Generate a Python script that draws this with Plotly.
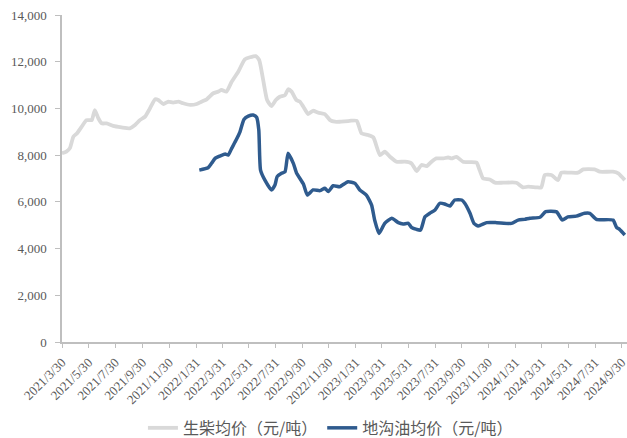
import plotly.graph_objects as go

# 生柴均价（元/吨）
diesel_dates = [
    "2021-03-30", "2021-04-09", "2021-04-17", "2021-04-25", "2021-05-03", "2021-05-14",
    "2021-05-25", "2021-06-06", "2021-06-13", "2021-06-21", "2021-06-29", "2021-07-10",
    "2021-07-25", "2021-08-13", "2021-09-01", "2021-09-13", "2021-09-24", "2021-10-06",
    "2021-10-17", "2021-10-29", "2021-11-05", "2021-11-17", "2021-11-28", "2021-12-09",
    "2021-12-21", "2022-01-01", "2022-01-17", "2022-02-01", "2022-02-12", "2022-02-24",
    "2022-03-11", "2022-03-22", "2022-03-30", "2022-04-10", "2022-04-22", "2022-05-07",
    "2022-05-22", "2022-06-03", "2022-06-16", "2022-06-24", "2022-07-03", "2022-07-12",
    "2022-07-22", "2022-08-01", "2022-08-10", "2022-08-22", "2022-08-29", "2022-09-06",
    "2022-09-17", "2022-09-25", "2022-10-03", "2022-10-14", "2022-10-25", "2022-11-06",
    "2022-11-21", "2022-12-03", "2022-12-14", "2022-12-25", "2023-01-17", "2023-02-02",
    "2023-02-13", "2023-02-28", "2023-03-12", "2023-03-27", "2023-04-07", "2023-04-19",
    "2023-05-04", "2023-05-23", "2023-06-07", "2023-06-19", "2023-06-30", "2023-07-12",
    "2023-07-23", "2023-08-03", "2023-08-19", "2023-08-30", "2023-09-07", "2023-09-18",
    "2023-10-03", "2023-10-19", "2023-11-03", "2023-11-10", "2023-11-18", "2023-12-03",
    "2023-12-15", "2024-01-03", "2024-02-02", "2024-02-17", "2024-02-29", "2024-03-19",
    "2024-03-30", "2024-04-07", "2024-04-22", "2024-05-07", "2024-05-15", "2024-06-03",
    "2024-06-22", "2024-07-04", "2024-07-30", "2024-08-11", "2024-09-10", "2024-09-22",
    "2024-10-07",
]
diesel_values = [
    8080, 8150, 8300, 8790, 8930, 9220,
    9500, 9500, 9930, 9580, 9360, 9360,
    9250, 9190, 9150, 9290, 9500, 9650,
    10000, 10390, 10360, 10190, 10290, 10250,
    10290, 10220, 10150, 10190, 10290, 10390,
    10650, 10720, 10790, 10720, 11140, 11570,
    12100, 12190, 12240, 12070, 11220, 10360,
    10100, 10360, 10500, 10570, 10820, 10720,
    10360, 10290, 10070, 9760, 9900, 9820,
    9760, 9500, 9430, 9430, 9470, 9470,
    8930, 8860, 8760, 8000, 8150, 7930,
    7720, 7720, 7650, 7320, 7580, 7530,
    7720, 7860, 7860, 7900, 7860, 7930,
    7720, 7700, 7680, 7360, 7000, 6960,
    6820, 6820, 6820, 6620, 6650, 6620,
    6620, 7150, 7150, 6930, 7250, 7250,
    7250, 7390, 7390, 7290, 7290, 7220,
    6930,
]

# 地沟油均价（元/吨）
uco_dates = [
    "2022-02-07", "2022-02-27", "2022-03-07", "2022-03-15", "2022-03-26", "2022-04-07",
    "2022-04-14", "2022-04-22", "2022-05-03", "2022-05-11", "2022-05-20", "2022-05-30",
    "2022-06-10", "2022-06-18", "2022-06-23", "2022-06-27", "2022-07-07", "2022-07-22",
    "2022-07-30", "2022-08-04", "2022-08-14", "2022-08-22", "2022-08-29", "2022-09-10",
    "2022-09-17", "2022-10-03", "2022-10-12", "2022-10-25", "2022-11-10", "2022-11-21",
    "2022-11-29", "2022-12-10", "2022-12-25", "2023-01-13", "2023-01-29", "2023-02-09",
    "2023-02-24", "2023-03-08", "2023-03-15", "2023-03-25", "2023-04-07", "2023-04-23",
    "2023-05-08", "2023-05-19", "2023-05-31", "2023-06-07", "2023-06-19", "2023-06-28",
    "2023-07-08", "2023-07-19", "2023-07-31", "2023-08-11", "2023-08-22", "2023-09-03",
    "2023-09-14", "2023-09-30", "2023-10-07", "2023-10-19", "2023-10-28", "2023-11-07",
    "2023-11-26", "2023-12-19", "2024-01-22", "2024-02-06", "2024-02-21", "2024-03-04",
    "2024-03-27", "2024-04-09", "2024-05-04", "2024-05-17", "2024-05-30", "2024-06-18",
    "2024-07-07", "2024-07-19", "2024-08-03", "2024-09-10", "2024-09-18", "2024-09-25",
    "2024-10-07",
]
uco_values = [
    7360, 7460, 7650, 7860, 7960, 8050,
    8000, 8290, 8680, 9000, 9530, 9670,
    9720, 9620, 9080, 7360, 6930, 6510,
    6720, 7080, 7220, 7290, 8080, 7650,
    7250, 6760, 6290, 6510, 6480, 6580,
    6440, 6690, 6650, 6860, 6790, 6510,
    6290, 5860, 5220, 4650, 5080, 5300,
    5110, 5050, 5080, 4910, 4820, 4790,
    5360, 5510, 5650, 5940, 5910, 5820,
    6080, 6080, 5940, 5510, 5080, 4970,
    5110, 5110, 5080, 5220, 5250, 5300,
    5340, 5580, 5570, 5220, 5360, 5390,
    5510, 5510, 5250, 5220, 4910, 4820,
    4580,
]

tick_dates = [
    "2021-03-30", "2021-05-30", "2021-07-30", "2021-09-30", "2021-11-30",
    "2022-01-31", "2022-03-31", "2022-05-31", "2022-07-31", "2022-09-30", "2022-11-30",
    "2023-01-31", "2023-03-31", "2023-05-31", "2023-07-31", "2023-09-30", "2023-11-30",
    "2024-01-31", "2024-03-31", "2024-05-31", "2024-07-31", "2024-09-30",
]
tick_labels = [
    "2021/3/30", "2021/5/30", "2021/7/30", "2021/9/30", "2021/11/30",
    "2022/1/31", "2022/3/31", "2022/5/31", "2022/7/31", "2022/9/30", "2022/11/30",
    "2023/1/31", "2023/3/31", "2023/5/31", "2023/7/31", "2023/9/30", "2023/11/30",
    "2024/1/31", "2024/3/31", "2024/5/31", "2024/7/31", "2024/9/30",
]

series_names = ["生柴均价（元/吨）", "地沟油均价（元/吨）"]

GRAY = "#D9D9D9"
BLUE = "#2F5B8E"
TEXT = "#595959"
AXIS = "#BFBFBF"
SERIF = "Liberation Serif, Times New Roman, serif"

fig = go.Figure()
fig.add_trace(go.Scatter(
    x=diesel_dates, y=diesel_values, name=series_names[0], mode="lines",
    line=dict(color=GRAY, width=3.8, shape="spline", smoothing=0.5),
))
fig.add_trace(go.Scatter(
    x=uco_dates, y=uco_values, name=series_names[1], mode="lines",
    line=dict(color=BLUE, width=3.5, shape="spline", smoothing=0.5),
))

fig.update_layout(
    width=627, height=438,
    margin=dict(l=62, r=0, t=15, b=96, autoexpand=False),
    plot_bgcolor="white", paper_bgcolor="white",
    font=dict(family=SERIF, color=TEXT, size=12),
    showlegend=True,
    legend=dict(
        orientation="h", xref="container", yref="container",
        x=0.527, xanchor="center", y=0.023, yanchor="middle",
        font=dict(size=16, color=TEXT, family="Noto Sans CJK SC"),
        itemwidth=30, tracegroupgap=0,
    ),
)
fig.update_xaxes(
    type="date", range=["2021-03-30", "2024-10-12"],
    tickmode="array", tickvals=tick_dates, ticktext=tick_labels,
    tickangle=-45, tickfont=dict(size=13, color=TEXT, family=SERIF),
    ticklabeloverflow="allow", ticklabelstandoff=2,
    showgrid=False, showline=True, linecolor=AXIS, linewidth=1.5,
    ticks="outside", ticklen=4, tickcolor=AXIS, zeroline=False,
    automargin=False,
)
fig.update_yaxes(
    range=[0, 14000], tickmode="linear", tick0=0, dtick=2000,
    tickformat=",", tickfont=dict(size=13, color=TEXT, family=SERIF),
    ticklabelstandoff=6,
    showgrid=False, showline=True, linecolor=AXIS, linewidth=1.5,
    ticks="outside", ticklen=5, tickcolor=AXIS, zeroline=False,
    automargin=False,
)

fig.write_html(
    "out.html",
    config={"displayModeBar": False},
    post_script="document.body.style.margin='0px';document.body.style.overflow='hidden';",
)
